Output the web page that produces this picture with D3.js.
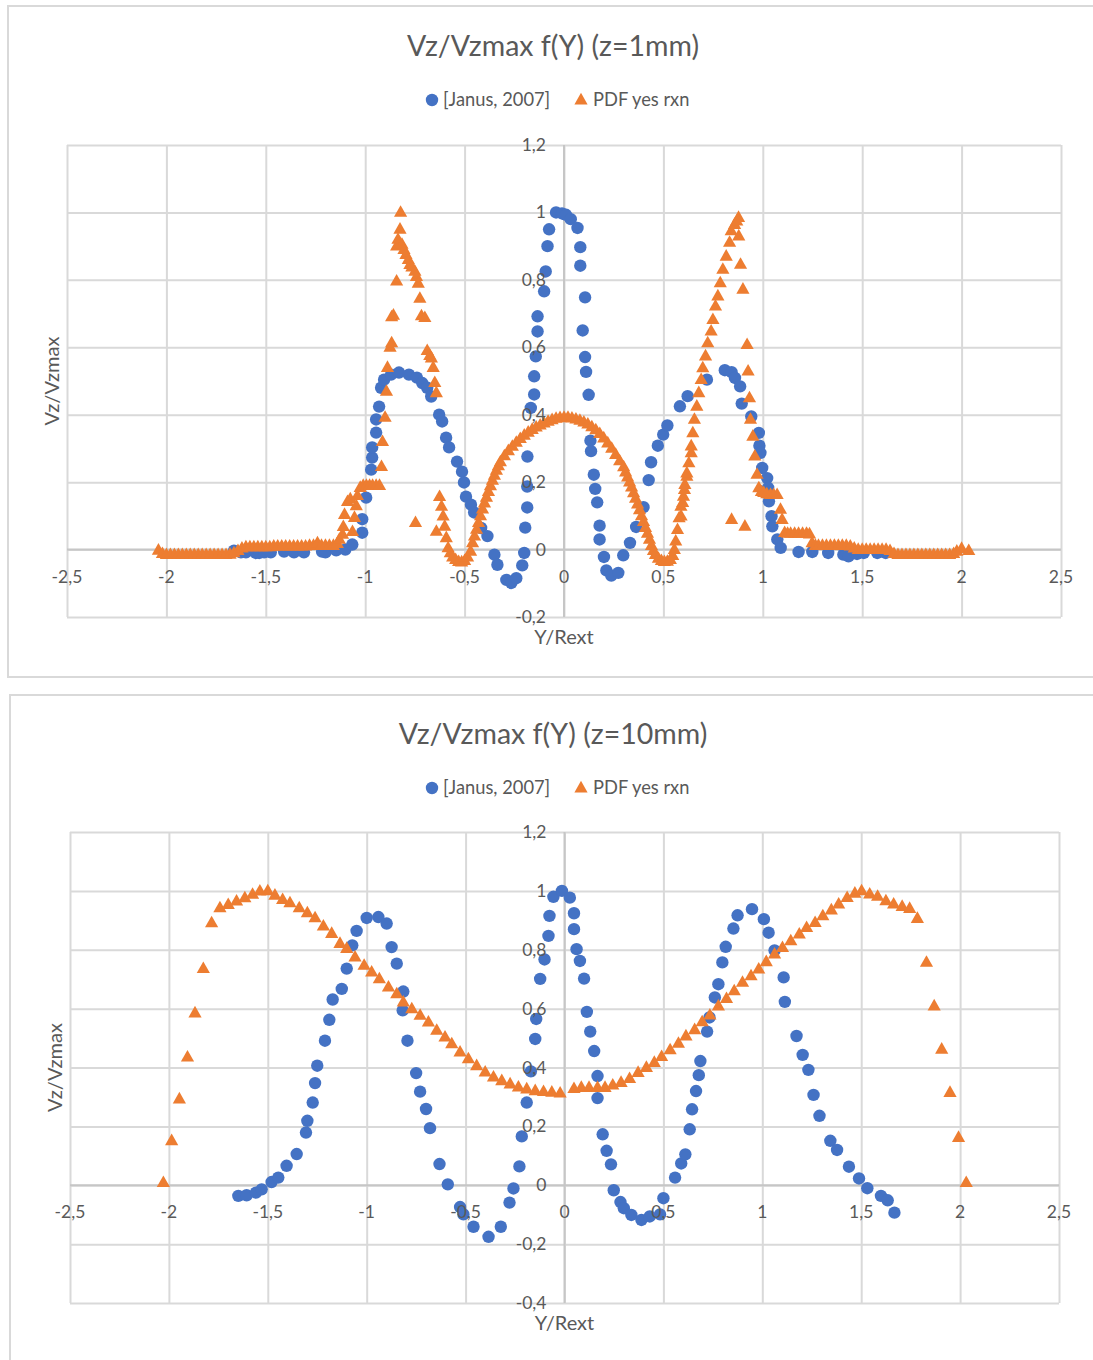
<!DOCTYPE html>
<html><head><meta charset="utf-8">
<script src="https://cdn.jsdelivr.net/npm/d3@7"></script>
<style>
html,body{margin:0;padding:0;background:#fff;}
svg{display:block;}
text{font-family:Lato,"Open Sans",sans-serif;fill:#595959;}
</style></head><body>
<svg id="page" width="1093" height="1360"></svg>
<script>
// ---- tick values and labels ----
const xTicks = [-2.5,-2,-1.5,-1,-0.5,0,0.5,1,1.5,2,2.5];
const yTicksTop = [-0.2,0,0.2,0.4,0.6,0.8,1,1.2];
const yTicksBottom = [-0.4,-0.2,0,0.2,0.4,0.6,0.8,1,1.2];
const seriesNames = ["[Janus, 2007]","PDF yes rxn"];
const chartTitles = ["Vz/Vzmax f(Y) (z=1mm)","Vz/Vzmax f(Y) (z=10mm)"];
const xTitle = "Y/Rext";
const yTitle = "Vz/Vzmax";

// ---- z = 1 mm : measured profile [Janus, 2007] ----
const janus1 = [
[-1.66,-0.003],[-1.625,-0.008],[-1.6,-0.008],[-1.55,-0.01],[-1.533,-0.01],[-1.508,-0.008],[-1.475,-0.008],[-1.408,-0.006],[-1.358,-0.008],[-1.308,-0.008],[-1.217,-0.006],[-1.2,-0.008],[-1.146,-0.002],[-1.1,0.0],[-1.065,0.015],
[-1.015,0.05],[-1.015,0.09],[-0.995,0.154],[-0.97,0.237],[-0.965,0.273],[-0.965,0.303],[-0.945,0.347],[-0.945,0.386],[-0.93,0.424],[-0.92,0.48],[-0.905,0.504],[-0.87,0.519],[-0.83,0.525],[-0.78,0.519],[-0.74,0.51],[-0.713,0.494],[-0.688,0.48],[-0.668,0.454],[-0.628,0.4],[-0.613,0.38],[-0.593,0.332],[-0.578,0.303],[-0.538,0.261],[-0.513,0.231],[-0.503,0.199],[-0.493,0.157],[-0.468,0.133],[-0.452,0.11],[-0.417,0.064],[-0.385,0.04],[-0.35,-0.015],[-0.335,-0.045],[-0.29,-0.09],[-0.265,-0.099],[-0.24,-0.085],[-0.21,-0.047],[-0.2,-0.01],[-0.195,0.065],[-0.185,0.125],[-0.185,0.187],[-0.184,0.276],[-0.167,0.42],[-0.15,0.46],[-0.15,0.514],[-0.142,0.573],[-0.133,0.647],[-0.133,0.692],[-0.1,0.766],[-0.092,0.825],[-0.083,0.9],[-0.075,0.95],[-0.04,1.0],
[-0.01,0.997],[0.01,0.993],[0.034,0.98],[0.068,0.954],[0.082,0.897],[0.082,0.842],[0.106,0.748],[0.094,0.65],[0.106,0.571],[0.111,0.527],[0.124,0.459],[0.133,0.323],[0.136,0.292],[0.15,0.222],[0.157,0.18],[0.167,0.14],[0.179,0.071],[0.179,0.03],[0.201,-0.022],[0.213,-0.062],[0.238,-0.077],[0.273,-0.069],[0.298,-0.017],[0.332,0.02],[0.363,0.067],[0.4,0.126],[0.426,0.206],[0.438,0.259],[0.472,0.308],[0.499,0.341],[0.52,0.368],[0.583,0.425],[0.622,0.455],[0.719,0.504],[0.809,0.532],[0.843,0.526],[0.86,0.509],[0.886,0.484],[0.894,0.433],[0.942,0.395],[0.98,0.346],[0.983,0.308],[0.988,0.287],[0.997,0.242],[1.022,0.212],[1.027,0.183],[1.031,0.143],[1.044,0.099],[1.048,0.069],[1.073,0.03],[1.09,0.005],[1.18,-0.007],[1.249,-0.007],[1.329,-0.01],[1.405,-0.015],[1.431,-0.02],[1.474,-0.013],[1.508,-0.01],[1.576,-0.01],[1.618,-0.01]
];

// ---- z = 1 mm : PDF yes rxn ----
const pdf1 = [
[-2.04,-0.002],[-2.02,-0.012],[-2.0,-0.015],[-1.98,-0.015],[-1.96,-0.015],[-1.94,-0.015],[-1.92,-0.015],[-1.9,-0.015],[-1.88,-0.015],[-1.86,-0.015],[-1.84,-0.015],[-1.82,-0.015],[-1.8,-0.015],[-1.78,-0.015],[-1.76,-0.015],[-1.74,-0.015],[-1.72,-0.015],[-1.7,-0.015],[-1.68,-0.014],[-1.66,-0.01],[-1.64,-0.003],[-1.62,0.004],[-1.6,0.008],[-1.58,0.008],[-1.56,0.008],[-1.54,0.008],[-1.52,0.008],[-1.5,0.008],[-1.48,0.008],[-1.46,0.01],[-1.44,0.01],[-1.42,0.01],[-1.4,0.01],[-1.38,0.01],[-1.36,0.01],[-1.34,0.01],[-1.32,0.01],[-1.3,0.01],[-1.28,0.012],[-1.26,0.012],[-1.24,0.02],[-1.22,0.012],[-1.2,0.012],[-1.18,0.012],[-1.16,0.012],[-1.14,0.018],[-1.13,0.03],
[-1.114,0.045],[-1.11,0.068],[-1.104,0.104],[-1.089,0.142],[-1.075,0.15],[-1.064,0.053],[-1.054,0.095],[-1.045,0.13],[-1.039,0.16],[-1.025,0.184],[-1.01,0.19],[-0.994,0.19],[-0.978,0.19],[-0.963,0.19],[-0.945,0.19],[-0.928,0.19],[-0.918,0.246],[-0.913,0.32],[-0.9,0.392],[-0.893,0.469],[-0.888,0.54],[-0.875,0.6],[-0.867,0.613],[-0.867,0.69],[-0.858,0.695],[-0.842,0.796],[-0.842,0.9],[-0.835,0.92],[-0.825,0.95],[-0.822,1.0],[-0.815,0.905],[-0.805,0.89],[-0.795,0.875],[-0.783,0.86],[-0.775,0.845],[-0.765,0.838],[-0.75,0.825],[-0.742,0.81],[-0.733,0.79],[-0.725,0.745],[-0.717,0.693],[-0.7,0.688],[-0.688,0.59],[-0.675,0.575],[-0.667,0.568],[-0.658,0.54],[-0.65,0.495],[-0.642,0.465],[-0.747,0.08],[-0.642,0.054],[-0.626,0.157],[-0.616,0.128],[-0.608,0.099],[-0.6,0.069],[-0.592,0.035],[-0.583,0.005],[-0.572,-0.01],[-0.56,-0.022],
[-0.545,-0.03],[-0.53,-0.036],[-0.515,-0.037],[-0.5,-0.033],[-0.485,-0.022],[-0.47,-0.005],[-0.46,0.02],[-0.45,0.04],[-0.44,0.06],[-0.43,0.08],[-0.42,0.1],[-0.41,0.12],[-0.4,0.138],[-0.39,0.155],[-0.38,0.172],[-0.37,0.189],[-0.36,0.205],[-0.35,0.22],[-0.34,0.235],[-0.33,0.248],[-0.32,0.26],[-0.3,0.278],[-0.28,0.293],[-0.26,0.306],[-0.24,0.318],[-0.22,0.329],[-0.2,0.339],[-0.18,0.348],[-0.16,0.356],[-0.14,0.363],[-0.12,0.369],[-0.1,0.375],[-0.08,0.38],[-0.06,0.385],[-0.04,0.389],[-0.02,0.391],[0.0,0.392],[0.02,0.392],[0.04,0.39],[0.06,0.387],[0.08,0.383],[0.1,0.378],[0.12,0.372],[0.14,0.364],[0.16,0.355],[0.18,0.344],[0.2,0.331],[0.22,0.316],[0.24,0.3],[0.26,0.282],[0.28,0.263],[0.3,0.245],[0.31,0.23],[0.32,0.215],[0.33,0.2],[0.34,0.185],[0.35,0.168],[0.36,0.152],[0.37,0.135],[0.38,0.118],[0.39,0.1],[0.4,0.083],[0.41,0.065],[0.42,0.048],[0.43,0.03],[0.44,0.012],[0.45,-0.003],[0.46,-0.015],[0.475,-0.026],[0.49,-0.033],[0.505,-0.036],[0.52,-0.035],[0.535,-0.03],[0.547,-0.018],[0.555,0.0],
[0.562,0.025],[0.571,0.059],[0.579,0.094],[0.589,0.099],[0.588,0.128],[0.597,0.139],[0.601,0.158],[0.606,0.178],[0.608,0.193],[0.618,0.217],[0.618,0.227],[0.628,0.257],[0.64,0.287],[0.64,0.307],[0.648,0.346],[0.656,0.386],[0.668,0.425],[0.678,0.465],[0.69,0.504],[0.698,0.539],[0.712,0.574],[0.723,0.613],[0.74,0.648],[0.749,0.682],[0.762,0.722],[0.774,0.752],[0.786,0.791],[0.799,0.831],[0.816,0.87],[0.833,0.911],[0.841,0.945],[0.858,0.964],[0.869,0.974],[0.878,0.985],
[0.879,0.93],[0.888,0.846],[0.9,0.772],[0.921,0.608],[0.926,0.529],[0.933,0.45],[0.938,0.386],[0.95,0.336],[0.96,0.277],[0.971,0.223],[0.98,0.183],[0.993,0.172],[1.005,0.169],[1.02,0.165],[1.039,0.163],[1.055,0.163],[1.072,0.163],[1.089,0.119],[1.097,0.089],[1.11,0.05],[1.125,0.048],[1.14,0.048],[1.16,0.048],[1.18,0.048],[1.2,0.048],[1.22,0.048],[1.235,0.046],[1.248,0.02],[1.265,0.012],[1.28,0.012],[1.3,0.012],[1.32,0.012],[1.34,0.012],[1.36,0.012],[1.38,0.012],[1.4,0.012],[1.42,0.012],[1.44,0.01],[1.46,0.004],[1.48,0.0],[1.5,0.0],[1.52,0.0],[1.54,0.0],[1.56,0.0],[1.58,0.0],[1.6,0.0],[1.62,0.0],[1.64,-0.003],[1.66,-0.012],[1.68,-0.015],[1.7,-0.015],[1.72,-0.015],[1.74,-0.015],[1.76,-0.015],[1.78,-0.015],[1.8,-0.015],[1.82,-0.015],[1.84,-0.015],[1.86,-0.015],[1.88,-0.015],[1.9,-0.015],[1.92,-0.015],[1.94,-0.015],[1.96,-0.012],[1.976,-0.005],[2.0,0.003],[2.036,-0.003],
[0.843,0.089],[0.91,0.069]
];

// ---- z = 10 mm : measured profile [Janus, 2007] ----
const janus2 = [
[-1.649,-0.036],[-1.607,-0.034],[-1.56,-0.025],[-1.531,-0.014],[-1.481,0.011],[-1.447,0.026],[-1.405,0.066],[-1.354,0.106],[-1.307,0.179],[-1.3,0.219],[-1.273,0.281],[-1.261,0.347],[-1.25,0.406],[-1.211,0.491],[-1.189,0.562],[-1.172,0.631],[-1.126,0.667],[-1.101,0.736],[-1.073,0.815],[-1.051,0.864],[-1.0,0.908],[-0.941,0.911],[-0.899,0.889],[-0.874,0.809],[-0.848,0.753],[-0.815,0.658],[-0.818,0.594],[-0.794,0.491],[-0.75,0.381],[-0.73,0.318],[-0.7,0.259],[-0.68,0.194],[-0.632,0.072],[-0.59,0.003],[-0.528,-0.074],[-0.511,-0.099],[-0.46,-0.141],[-0.384,-0.175],[-0.322,-0.141],[-0.278,-0.059],[-0.258,-0.011],[-0.228,0.064],[-0.216,0.166],[-0.191,0.281],[-0.17,0.387],[-0.148,0.497],[-0.143,0.565],[-0.123,0.701],[-0.101,0.767],[-0.081,0.847],[-0.076,0.915],[-0.056,0.98],[-0.013,1.0],
[0.027,0.977],[0.048,0.924],[0.048,0.87],[0.061,0.802],[0.078,0.762],[0.099,0.702],[0.113,0.589],[0.13,0.522],[0.15,0.456],[0.167,0.371],[0.167,0.296],[0.193,0.173],[0.213,0.117],[0.235,0.071],[0.249,-0.017],[0.283,-0.057],[0.3,-0.078],[0.338,-0.101],[0.389,-0.118],[0.431,-0.106],[0.483,-0.099],[0.5,-0.044],[0.559,0.026],[0.59,0.074],[0.611,0.105],[0.633,0.19],[0.645,0.258],[0.665,0.32],[0.679,0.374],[0.687,0.422],[0.721,0.522],[0.733,0.57],[0.76,0.638],[0.778,0.683],[0.798,0.757],[0.815,0.81],[0.854,0.872],[0.875,0.917],[0.948,0.938],[1.008,0.904],[1.032,0.858],[1.062,0.798],[1.108,0.706],[1.114,0.623],[1.173,0.507],[1.204,0.443],[1.233,0.392],[1.259,0.307],[1.289,0.236],[1.344,0.151],[1.378,0.12],[1.438,0.063],[1.489,0.023],[1.531,-0.01],[1.6,-0.036],[1.634,-0.051],[1.668,-0.093]
];

// ---- z = 10 mm : PDF yes rxn ----
const pdf2 = [
[-2.028,0.009],[-1.986,0.151],[-1.947,0.293],[-1.906,0.435],[-1.868,0.585],[-1.826,0.736],[-1.784,0.891],[-1.742,0.942],[-1.7,0.953],[-1.658,0.965],[-1.616,0.976],[-1.577,0.988],[-1.54,0.999],[-1.5,1.0],[-1.464,0.985],[-1.425,0.97],[-1.388,0.959],[-1.341,0.942],[-1.3,0.925],[-1.261,0.908],[-1.219,0.88],[-1.177,0.855],[-1.135,0.821],[-1.101,0.804],[-1.059,0.775],[-1.013,0.747],[-0.975,0.724],[-0.936,0.701],[-0.89,0.673],[-0.848,0.65],[-0.815,0.622],[-0.772,0.599],[-0.73,0.577],[-0.688,0.554],[-0.646,0.526],[-0.604,0.503],[-0.57,0.48],[-0.528,0.452],[-0.486,0.429],[-0.444,0.406],[-0.401,0.384],[-0.359,0.367],[-0.317,0.355],[-0.275,0.344],[-0.233,0.333],[-0.191,0.327],[-0.148,0.321],[-0.106,0.318],[-0.064,0.316],[-0.022,0.313],
[0.048,0.328],[0.085,0.332],[0.124,0.332],[0.167,0.332],[0.205,0.332],[0.244,0.34],[0.286,0.349],[0.329,0.362],[0.372,0.383],[0.414,0.4],[0.454,0.417],[0.491,0.437],[0.534,0.46],[0.576,0.482],[0.614,0.507],[0.658,0.528],[0.696,0.555],[0.735,0.578],[0.778,0.609],[0.819,0.634],[0.858,0.66],[0.9,0.689],[0.943,0.711],[0.982,0.734],[1.02,0.759],[1.062,0.785],[1.102,0.807],[1.144,0.83],[1.187,0.853],[1.224,0.875],[1.267,0.892],[1.306,0.915],[1.349,0.935],[1.386,0.955],[1.429,0.977],[1.468,0.992],[1.502,1.0],[1.543,0.989],[1.583,0.981],[1.625,0.966],[1.664,0.955],[1.707,0.947],[1.745,0.94],[1.784,0.906],[1.83,0.757],[1.869,0.609],[1.907,0.462],[1.949,0.315],[1.992,0.162],[2.031,0.009]
];

const BLUE = "#4472C4", ORANGE = "#ED7D31";
const fmt = v => String(+v.toFixed(2)).replace(".", ",");
const svg = d3.select("#page");
const triPath = "M0,-7.2L6.6,4.4L-6.6,4.4Z";

function drawChart(o) {
  const g = svg.append("g");
  // chart frame
  g.append("rect").attr("x", o.frame[0]).attr("y", o.frame[1])
    .attr("width", o.frame[2]).attr("height", o.frame[3])
    .attr("fill", "#fff").attr("stroke", "#d9d9d9").attr("stroke-width", 2);

  const x = d3.scaleLinear().domain([-2.5, 2.5]).range([o.left, o.right]);
  const y = d3.scaleLinear().domain([o.yTicks[0], 1.2]).range([o.bottom, o.top]);

  // gridlines
  g.append("g").attr("class", "vgrid").call(
    d3.axisBottom(x).tickValues(xTicks).tickSize(-(o.bottom - o.top)).tickFormat(""))
    .attr("transform", `translate(0,${o.bottom})`)
    .call(s => s.select(".domain").remove())
    .call(s => s.selectAll("line").attr("stroke", "#d9d9d9").attr("stroke-width", 2));
  g.append("g").attr("class", "hgrid").call(
    d3.axisLeft(y).tickValues(o.yTicks).tickSize(-(o.right - o.left)).tickFormat(""))
    .attr("transform", `translate(${o.left},0)`)
    .call(s => s.select(".domain").remove())
    .call(s => s.selectAll("line").attr("stroke", "#d9d9d9").attr("stroke-width", 2));

  // axis lines through the origin
  g.append("line").attr("x1", o.left).attr("x2", o.right).attr("y1", y(0)).attr("y2", y(0))
    .attr("stroke", "#c6c6c6").attr("stroke-width", 2);
  g.append("line").attr("x1", x(0)).attr("x2", x(0)).attr("y1", o.top).attr("y2", o.bottom)
    .attr("stroke", "#c6c6c6").attr("stroke-width", 2);

  // series
  g.append("g").selectAll("circle").data(o.blue).join("circle")
    .attr("cx", d => x(d[0])).attr("cy", d => y(d[1])).attr("r", 6.2).attr("fill", BLUE);
  g.append("g").selectAll("path").data(o.orange).join("path")
    .attr("d", triPath).attr("transform", d => `translate(${x(d[0])},${y(d[1])})`).attr("fill", ORANGE);

  // tick labels
  g.append("g").selectAll("text").data(xTicks).join("text")
    .attr("x", d => x(d)).attr("y", y(0) + 33).attr("text-anchor", "middle")
    .attr("font-size", 17.5).text(fmt);
  g.append("g").selectAll("text").data(o.yTicks).join("text")
    .attr("x", x(0) - 18).attr("y", d => y(d) + 6).attr("text-anchor", "end")
    .attr("font-size", 17.5).text(fmt);

  // axis titles
  g.append("text").attr("x", x(0)).attr("y", o.bottom + 27).attr("text-anchor", "middle")
    .attr("font-size", 20).text(xTitle);
  g.append("text").attr("transform", `translate(${o.yTitleX},${(o.top + o.bottom) / 2}) rotate(-90)`)
    .attr("text-anchor", "middle").attr("font-size", 20).text(yTitle);

  // chart title
  g.append("text").attr("x", 553).attr("y", o.titleY).attr("text-anchor", "middle")
    .attr("font-size", 28.5).text(o.title);

  // legend
  const lg = g.append("g").attr("transform", `translate(0,${o.legendY})`);
  lg.append("circle").attr("cx", 432).attr("cy", 0).attr("r", 6.2).attr("fill", BLUE);
  lg.append("text").attr("x", 443).attr("y", 6).attr("font-size", 18.3).text(seriesNames[0]);
  lg.append("path").attr("d", triPath).attr("transform", "translate(581,0)").attr("fill", ORANGE);
  lg.append("text").attr("x", 593).attr("y", 6).attr("font-size", 18.3).text(seriesNames[1]);
}

drawChart({
  frame: [8, 6, 1100, 671], left: 67, right: 1061, top: 145, bottom: 617,
  yTicks: yTicksTop, blue: janus1, orange: pdf1, title: chartTitles[0],
  titleY: 56, legendY: 100, yTitleX: 59
});
drawChart({
  frame: [10, 695, 1100, 700], left: 70, right: 1059, top: 832, bottom: 1303,
  yTicks: yTicksBottom, blue: janus2, orange: pdf2, title: chartTitles[1],
  titleY: 744, legendY: 788, yTitleX: 62
});
</script>
</body></html>
